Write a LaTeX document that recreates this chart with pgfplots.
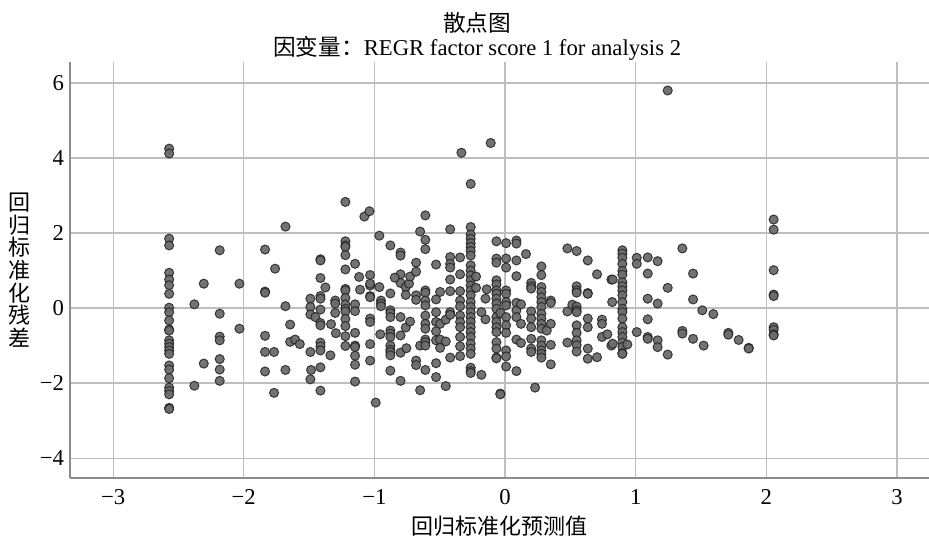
\documentclass[border=0pt]{standalone}
\usepackage{fontspec}
\setmainfont{Liberation Serif}
\newfontfamily\cjk{Noto Sans CJK SC}
\usepackage{pgfplots}
\pgfplotsset{compat=1.18}
\definecolor{gridc}{RGB}{190,190,190}
\definecolor{axisc}{RGB}{140,140,140}
\definecolor{dotfill}{RGB}{108,108,108}
\definecolor{dotedge}{RGB}{35,35,35}

\pgfplotstableread{
x y
-2.571 4.25
-2.571 4.12
-2.571 1.85
-2.571 1.67
-2.571 0.94
-2.571 0.76
-2.571 0.61
-2.571 0.38
-2.571 0.01
-2.571 -0.11
-2.571 -0.33
-2.571 -0.57
-2.571 -0.60
-2.571 -0.86
-2.571 -0.95
-2.571 -1.04
-2.571 -1.13
-2.571 -1.22
-2.571 -1.53
-2.571 -1.64
-2.571 -1.87
-2.571 -2.12
-2.571 -2.21
-2.571 -2.30
-2.571 -2.66
-2.571 -2.69
-2.378 0.10
-2.378 -2.07
-2.306 0.65
-2.306 -1.48
-2.184 1.54
-2.184 -0.15
-2.184 -0.76
-2.184 -0.86
-2.184 -1.36
-2.184 -1.64
-2.184 -1.94
-2.033 0.65
-2.033 -0.55
-1.837 1.56
-1.837 0.44
-1.837 0.41
-1.837 -0.74
-1.837 -1.17
-1.837 -1.69
-1.768 -1.17
-1.768 -2.26
-1.760 1.05
-1.681 2.17
-1.681 0.05
-1.681 -1.65
-1.645 -0.44
-1.645 -0.90
-1.607 -0.84
-1.571 -0.96
-1.490 0.25
-1.490 0.03
-1.490 -0.17
-1.490 -1.17
-1.490 -1.90
-1.485 -1.65
-1.452 -0.24
-1.413 1.30
-1.413 1.27
-1.413 0.80
-1.413 0.32
-1.413 0.25
-1.413 -0.04
-1.413 -0.40
-1.413 -0.46
-1.413 -0.92
-1.413 -1.02
-1.413 -1.13
-1.413 -1.58
-1.413 -2.20
-1.375 0.55
-1.337 -1.26
-1.332 -0.43
-1.300 0.20
-1.300 0.12
-1.300 -0.13
-1.295 -0.67
-1.222 2.83
-1.222 1.78
-1.222 1.67
-1.222 1.63
-1.222 1.41
-1.222 1.03
-1.222 0.51
-1.222 0.47
-1.222 0.27
-1.222 0.10
-1.222 -0.02
-1.222 -0.09
-1.222 -0.29
-1.222 -0.48
-1.222 -0.75
-1.222 -1.01
-1.148 1.18
-1.148 0.10
-1.148 -0.08
-1.148 -0.66
-1.148 -1.00
-1.148 -1.04
-1.148 -1.27
-1.148 -1.51
-1.148 -1.96
-1.117 0.83
-1.110 0.49
-1.077 2.44
-1.038 2.58
-1.033 0.88
-1.033 0.60
-1.033 0.65
-1.033 0.32
-1.033 0.29
-1.033 -0.28
-1.033 -0.37
-1.033 -0.96
-1.033 -1.40
-0.990 -2.52
-0.962 1.93
-0.962 0.56
-0.950 0.20
-0.950 0.12
-0.950 0.05
-0.955 -0.70
-0.878 1.67
-0.878 0.39
-0.878 -0.06
-0.878 -0.13
-0.878 -0.24
-0.878 -0.60
-0.878 -0.68
-0.878 -0.77
-0.878 -1.00
-0.878 -1.11
-0.878 -1.17
-0.878 -1.26
-0.878 -1.67
-0.800 1.48
-0.800 1.40
-0.800 0.90
-0.800 0.67
-0.800 -0.24
-0.800 -0.73
-0.800 -1.19
-0.800 -1.94
-0.844 0.81
-0.760 0.56
-0.760 0.35
-0.760 -0.52
-0.735 0.65
-0.727 0.84
-0.727 -0.36
-0.755 -1.07
-0.681 1.21
-0.681 0.97
-0.681 0.34
-0.681 0.22
-0.681 -1.40
-0.681 -1.52
-0.650 2.04
-0.650 -1.00
-0.650 -2.19
-0.610 2.47
-0.610 1.82
-0.610 1.57
-0.610 0.47
-0.610 0.41
-0.610 0.20
-0.610 0.07
-0.610 -0.20
-0.610 -0.42
-0.610 -0.55
-0.610 -0.84
-0.610 -0.91
-0.610 -1.00
-0.610 -1.65
-0.528 1.16
-0.528 0.23
-0.528 -0.11
-0.528 -0.37
-0.528 -0.62
-0.528 -0.86
-0.528 -1.47
-0.528 -1.84
-0.497 0.43
-0.497 -0.42
-0.497 -0.84
-0.497 -1.06
-0.454 -0.31
-0.454 -0.89
-0.454 -2.08
-0.420 2.10
-0.420 1.36
-0.420 1.18
-0.420 1.08
-0.420 0.76
-0.420 0.45
-0.420 -0.11
-0.420 -0.18
-0.420 -1.32
-0.344 1.35
-0.344 0.90
-0.344 0.45
-0.344 0.20
-0.344 0.05
-0.344 -0.20
-0.344 -0.37
-0.344 -0.51
-0.344 -0.77
-0.344 -1.02
-0.344 -1.28
-0.334 4.14
-0.263 3.31
-0.263 2.16
-0.263 1.96
-0.263 1.85
-0.263 1.73
-0.263 1.63
-0.263 1.52
-0.263 1.40
-0.263 1.14
-0.263 1.00
-0.263 0.87
-0.263 0.74
-0.263 0.60
-0.263 0.47
-0.263 0.34
-0.263 0.16
-0.263 0.03
-0.263 -0.11
-0.263 -0.24
-0.263 -0.37
-0.263 -0.51
-0.263 -0.64
-0.263 -0.77
-0.263 -0.95
-0.263 -1.08
-0.263 -1.22
-0.263 -1.59
-0.263 -1.68
-0.263 -1.73
-0.222 0.84
-0.222 0.54
-0.181 -0.11
-0.181 -1.78
-0.150 0.25
-0.150 -0.30
-0.140 0.50
-0.110 4.40
-0.066 1.78
-0.066 1.32
-0.066 1.21
-0.066 0.74
-0.066 0.63
-0.066 0.47
-0.066 0.38
-0.066 0.25
-0.066 0.12
-0.066 -0.02
-0.066 -0.24
-0.066 -0.37
-0.066 -0.51
-0.066 -0.64
-0.066 -0.91
-0.066 -1.08
-0.066 -1.32
-0.066 -1.34
-0.036 -2.28
-0.036 -2.30
-0.036 -0.13
0.008 1.73
0.008 1.32
0.008 1.08
0.008 0.47
0.008 0.38
0.008 0.16
0.008 0.07
0.008 -0.24
0.008 -0.46
0.008 -0.66
0.008 -1.13
0.008 -1.29
0.008 -1.56
0.087 1.80
0.087 1.72
0.087 1.27
0.087 0.85
0.087 0.14
0.087 -0.06
0.087 -0.24
0.087 -0.84
0.087 -1.68
0.160 1.44
0.122 0.10
0.122 -0.42
0.122 -0.93
0.200 0.67
0.200 0.58
0.200 0.52
0.200 -0.09
0.200 -0.28
0.200 -0.51
0.200 -0.82
0.200 -1.08
0.200 -1.17
0.230 -2.12
0.278 1.11
0.278 0.88
0.278 0.56
0.278 0.43
0.278 0.29
0.278 0.16
0.278 0.03
0.278 -0.15
0.278 -0.28
0.278 -0.42
0.278 -0.55
0.278 -0.86
0.278 -1.00
0.278 -1.13
0.278 -1.22
0.278 -1.32
0.319 -0.60
0.350 0.20
0.350 0.14
0.350 -0.42
0.350 -0.98
0.350 -1.50
0.477 1.59
0.477 -0.09
0.477 -0.92
0.515 0.09
0.548 1.52
0.548 0.58
0.548 0.47
0.548 0.41
0.548 0.04
0.548 -0.06
0.548 -0.11
0.548 -0.46
0.548 -0.66
0.548 -0.86
0.548 -0.99
0.548 -1.16
0.633 1.27
0.633 0.40
0.633 0.38
0.633 -0.28
0.633 -0.51
0.633 -1.08
0.633 -1.35
0.704 0.90
0.704 -1.31
0.742 -0.31
0.742 -0.42
0.742 -0.77
0.783 -0.70
0.814 0.76
0.814 -1.00
0.824 0.76
0.824 -0.95
0.820 0.16
0.898 1.54
0.898 1.45
0.898 1.34
0.898 1.18
0.898 0.99
0.898 0.89
0.898 0.69
0.898 0.58
0.898 0.47
0.898 0.34
0.898 0.16
0.898 -0.02
0.898 -0.11
0.898 -0.28
0.898 -0.51
0.898 -0.64
0.898 -0.77
0.898 -0.92
0.898 -1.04
0.898 -1.20
0.898 -1.22
0.936 -0.97
1.008 1.34
1.008 1.18
1.008 -0.64
1.092 1.35
1.092 0.92
1.092 0.25
1.092 -0.30
1.092 -0.77
1.092 -0.82
1.168 1.25
1.168 0.12
1.168 -0.86
1.168 -1.04
1.245 5.80
1.245 0.54
1.245 -1.24
1.357 1.59
1.357 -0.61
1.357 -0.68
1.439 0.92
1.439 0.23
1.439 -0.82
1.510 -0.06
1.594 -0.16
1.520 -1.00
1.709 -0.66
1.709 -0.71
1.788 -0.85
1.865 -1.06
1.865 -1.08
2.056 2.36
2.056 2.09
2.056 1.01
2.056 0.36
2.056 0.32
2.056 -0.51
2.056 -0.58
2.056 -0.70
2.056 -0.73
}\scatterdata

\begin{document}
\begin{tikzpicture}
\useasboundingbox (0,0) rectangle (696.75pt,402pt);
\begin{axis}[
    at={(52.5pt,43.5pt)},
    anchor=south west,
    scale only axis,
    width=644.25pt,
    height=312pt,
    xmin=-3.33, xmax=3.245,
    ymin=-4.53, ymax=6.56,
    axis x line=bottom,
    axis y line=left,
    axis line style={axisc,line width=1.2pt,-},
    xtick={-3,-2,-1,0,1,2,3},
    ytick={-4,-2,0,2,4,6},
    xticklabels={−3,−2,−1,0,1,2,3},
    yticklabels={−4,−2,0,2,4,6},
    major tick length=0pt,
    xmajorgrids, ymajorgrids,
    grid style={gridc,line width=0.9pt},
    tick label style={font=\fontsize{17}{18}\selectfont},
    xticklabel style={yshift=-5pt},
    yticklabel style={xshift=-1pt},
    xlabel={\cjk 回归标准化预测值},
    xlabel style={font=\fontsize{16.5}{18}\selectfont,at={(axis description cs:0.5,0)},anchor=north,yshift=-25pt},
    ylabel={回\\[0pt]归\\[0pt]标\\[0pt]准\\[0pt]化\\[0pt]残\\[0pt]差},
    ylabel style={rotate=-90,align=center,font=\fontsize{16.5}{17}\selectfont\cjk,at={(axis description cs:-0.059,0.5)},anchor=center},
    title={{\cjk 散点图}\\[0pt]{\cjk 因变量：}REGR factor score 1 for analysis 2},
    title style={align=center,font=\fontsize{17}{18}\selectfont,at={(axis description cs:0.474,1)},anchor=south,yshift=-8.5pt},
]
\addplot[only marks,mark=*,mark size=3.4pt,
    mark options={draw=dotedge,fill=dotfill,line width=0.75pt,draw opacity=0.85,fill opacity=0.95}]
    table[x=x,y=y] {\scatterdata};
\end{axis}
\end{tikzpicture}
\end{document}
